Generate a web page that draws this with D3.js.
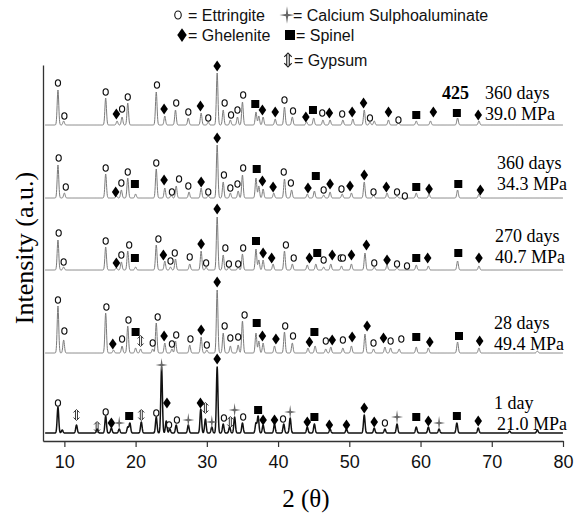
<!DOCTYPE html>
<html>
<head>
<meta charset="utf-8">
<script src="https://cdn.jsdelivr.net/npm/d3@7/dist/d3.min.js"></script>
<style>
body{margin:0;background:#fff;}
</style>
</head>
<body>
<svg id="chart" width="583" height="515"></svg>
<script>
// 2-theta ticks and sample labels
var xTicks = [10, 20, 30, 40, 50, 60, 70, 80];
var ages = ["1 day", "28 days", "270 days", "360 days", "360 days"];
var strengths = ["21.0 MPa", "49.4 MPa", "40.7 MPa", "34.3 MPa", "39.0 MPa"];
var offsets = [8, 88, 171, 243, 316];

// peaks: [2theta, height] , marks: [phase, 2theta, height]
var peaks1 = [[9.1,26],[9.7,3],[11.7,8],[14.6,4],[15.8,17],[16.6,5],[17.7,4],[18.9,6],[19.2,10],[20.8,11],[22.9,16],[23.65,66],[24.3,12],[24.8,4],[25.7,8],[27.4,8],[29.15,24],[29.8,14],[30.7,6],[31.45,66],[32.3,9],[33.2,6],[33.9,16],[35.0,10],[36.9,10],[37.2,17],[37.9,8],[39.5,9],[40.8,9],[41.7,15],[44.1,6],[45.1,9],[47.3,4],[49.6,4],[52.1,18],[53.5,5],[55.0,4],[56.7,9],[59.4,6],[61.1,6],[62.6,4],[65.1,10],[68.1,5],[72.5,2],[76.4,3]];
var marks1 = [["E",9.1,30],["Y",11.7,18],["Y",14.6,6],["E",15.8,21],["G",16.6,10],["C",17.7,10],["S",19.1,17],["Y",20.8,18],["E",22.9,20],["C",23.65,68],["G",24.4,30],["E",24.7,8],["E",25.8,13],["C",27.4,13],["G",29.1,30],["Y",29.8,25],["C",30.7,11],["G",31.45,74],["E",32.4,15],["Y",33.3,11],["C",33.9,23],["E",35.1,16],["S",37.2,23],["G",37.9,13],["G",39.5,13],["E",40.7,14],["C",41.7,21],["G",44.1,11],["S",45.1,16],["G",47.2,8],["G",49.6,8],["G",52.1,25],["G",53.5,11],["E",55.0,10],["C",56.7,16],["S",59.4,16],["G",61.1,12],["C",62.6,10],["S",65.1,17],["G",68.1,12]];

var peaks28 = [[9.1,47],[9.9,13],[15.8,40],[16.9,3],[18.1,7],[18.9,27],[20.0,5],[20.7,4],[22.4,4],[22.9,30],[24.1,10],[25.1,4],[25.6,12],[27.6,8],[29.2,16],[30.0,3],[31.45,63],[32.3,20],[33.3,7],[34.4,8],[35.0,32],[36.9,20],[37.3,12],[37.9,10],[39.5,7],[40.9,21],[42.0,10],[44.2,5],[45.2,7],[46.7,4],[47.4,6],[49.1,5],[50.3,7],[52.2,19],[53.4,4],[55.0,6],[55.8,5],[57.0,4],[59.4,6],[61.1,5],[65.2,11],[68.2,5],[76.4,2]];
var marks28 = [["E",9.1,53],["E",10.0,22],["E",15.9,46],["G",16.8,9],["E",18.1,14],["E",19.0,33],["S",20.0,21],["Y",20.7,12],["E",22.4,10],["E",23.1,36],["G",24.0,17],["E",25.1,9],["E",25.7,18],["E",27.7,14],["G",29.2,23],["E",30.0,8],["G",31.45,71],["E",32.5,27],["E",33.3,15],["E",34.4,16],["E",35.3,38],["S",37.0,30],["G",37.8,17],["G",39.7,14],["E",41.0,27],["E",42.1,17],["G",44.4,11],["S",45.1,21],["E",46.7,12],["G",47.6,13],["E",49.1,13],["G",50.4,16],["G",52.5,27],["E",53.4,10],["G",54.8,15],["E",55.8,12],["E",57.3,14],["S",59.4,16],["G",61.3,11],["S",65.4,17],["G",68.3,12]];

var peaks270 = [[9.1,30],[9.9,3],[15.8,23],[17.3,2],[18.0,8],[18.9,19],[20.0,3],[22.9,25],[24.1,9],[24.9,3],[25.6,11],[27.6,6],[29.2,19],[29.9,3],[31.45,53],[32.3,15],[33.1,3],[34.4,3],[35.0,16],[36.9,21],[37.3,10],[37.9,10],[39.3,6],[40.9,19],[42.0,6],[44.1,5],[45.3,6],[46.4,3],[47.4,6],[48.9,4],[50.3,6],[52.2,17],[53.5,3],[55.3,5],[56.7,2],[59.4,5],[61.1,4],[65.2,9],[68.2,4]];
var marks270 = [["E",9.2,37],["E",9.9,8],["E",15.8,29],["G",17.3,7],["E",18.0,15],["E",19.1,25],["S",19.9,12],["E",23.2,31],["G",23.9,15],["E",24.9,9],["E",25.5,17],["E",27.6,13],["G",29.2,26],["E",29.9,7],["G",31.45,61],["E",32.6,22],["E",33.1,6],["E",34.4,6],["E",35.1,22],["S",36.9,29],["G",37.9,17],["G",39.1,12],["E",41.1,25],["E",42.2,12],["G",44.4,12],["S",45.5,17],["E",46.4,10],["G",47.6,15],["E",48.8,12],["E",49.1,12],["G",50.3,15],["G",52.4,25],["E",53.5,7],["G",55.3,10],["E",56.7,6],["E",58.1,4],["S",59.4,12],["G",61.0,12],["S",65.3,17],["G",68.2,12]];

var peaks360 = [[9.1,33],[10.0,5],[15.8,24],[17.3,2],[18.0,8],[18.9,20],[20.0,4],[22.9,29],[24.1,10],[25.0,3],[25.7,12],[27.5,6],[29.2,10],[30.2,2],[31.45,53],[32.3,16],[33.3,5],[34.4,7],[35.0,23],[36.9,20],[37.3,12],[37.9,9],[39.4,5],[40.9,19],[41.9,8],[44.1,4],[45.1,7],[46.4,3],[47.3,6],[49.0,4],[50.3,5],[52.1,16],[53.4,3],[55.3,5],[56.7,2],[59.4,5],[61.2,4],[65.2,8],[68.2,4]];
var marks360 = [["E",9.2,40],["E",10.2,11],["E",15.8,30],["G",17.2,6],["E",18.0,15],["E",18.9,26],["S",19.9,14],["E",22.9,35],["G",24.0,18],["E",25.1,6],["E",26.1,19],["E",27.4,12],["G",29.2,16],["E",30.2,6],["G",31.45,60],["E",32.4,23],["E",33.3,10],["E",34.3,14],["E",35.1,30],["S",37.0,29],["G",37.8,17],["G",39.3,11],["E",40.8,26],["E",41.8,15],["G",44.2,10],["S",45.3,22],["E",46.4,8],["G",47.3,14],["E",48.9,9],["G",50.1,12],["G",52.1,23],["E",53.4,6],["G",55.2,11],["E",56.7,6],["E",57.8,2],["S",59.4,11],["G",61.2,9],["S",65.3,14],["G",68.4,8]];

var peaks425 = [[9.1,35],[9.9,4],[15.8,27],[17.4,4],[18.1,8],[18.9,22],[22.9,33],[24.1,9],[25.6,15],[27.4,7],[29.2,12],[30.2,3],[31.45,52],[32.3,15],[33.3,5],[34.3,8],[35.0,23],[36.9,13],[37.3,9],[37.9,8],[39.6,6],[40.9,18],[42.0,8],[44.0,3],[45.0,7],[46.3,5],[47.3,5],[49.1,5],[50.5,6],[52.1,15],[52.9,3],[53.5,4],[55.5,5],[56.9,2],[59.4,4],[61.4,4],[65.2,7],[68.2,4]];
var marks425 = [["E",9.1,42],["E",10.0,9],["E",15.8,33],["G",17.3,11],["E",18.1,16],["E",18.9,28],["E",23.0,40],["G",24.0,16],["E",25.7,22],["E",27.4,13],["G",29.1,19],["E",30.2,7],["G",31.45,59],["E",32.5,22],["E",33.4,10],["E",34.3,15],["E",35.1,30],["S",36.8,21],["G",37.8,15],["G",39.6,13],["E",40.9,25],["E",42.1,14],["G",43.9,8],["S",44.9,15],["E",46.2,12],["G",47.2,12],["E",49.0,11],["G",50.4,13],["G",52.0,22],["E",52.9,7],["G",55.5,13],["E",56.9,5],["S",59.4,10],["G",61.8,13],["S",65.1,12],["G",68.1,10]];

var peakSets = [peaks1, peaks28, peaks270, peaks360, peaks425];
var markSets = [marks1, marks28, marks270, marks360, marks425];

var svg = d3.select("#chart");
var x = d3.scaleLinear().domain([7, 80]).range([43, 563]);
var y = d3.scaleLinear().domain([0, 376]).range([441, 65]);

// axes
svg.append("g")
	.attr("transform", "translate(0,441)")
	.call(d3.axisBottom(x).tickValues(xTicks).tickSize(6).tickSizeOuter(0).tickPadding(8))
	.call(function(g){
		g.select(".domain").attr("stroke", "#333").attr("stroke-width", 1.3);
		g.selectAll(".tick line").attr("stroke", "#333").attr("stroke-width", 1.2);
		g.selectAll("text").attr("font-family", "Liberation Sans, Arial, sans-serif").attr("font-size", 18).attr("fill", "#111");
	});
svg.append("g")
	.attr("transform", "translate(43,0)")
	.call(d3.axisLeft(y).tickValues([]).tickSizeOuter(0))
	.call(function(g){ g.select(".domain").attr("stroke", "#333").attr("stroke-width", 1.3); });

svg.append("text")
	.attr("x", 306).attr("y", 507)
	.attr("text-anchor", "middle")
	.attr("font-family", "Liberation Serif, Times New Roman, serif")
	.attr("font-size", 25)
	.text("2 (θ)");
svg.append("text")
	.attr("transform", "translate(33,248) rotate(-90)")
	.attr("text-anchor", "middle")
	.attr("font-family", "Liberation Serif, Times New Roman, serif")
	.attr("font-size", 26)
	.text("Intensity (a.u.)");

// patterns
var line = d3.line().x(function(d){ return x(d[0]); }).y(function(d){ return y(d[1]); });
function profile(peaks, off){
	var pts = [];
	for (var t = 7.3; t <= 80.001; t += 0.03) {
		var v = 0;
		peaks.forEach(function(p){
			var d = (t - p[0]) / 0.11;
			if (Math.abs(d) < 6) v += p[1] * Math.exp(-0.5 * d * d);
		});
		pts.push([t, off + v]);
	}
	return pts;
}

peakSets.forEach(function(peaks, i){
	svg.append("path")
		.attr("d", line(profile(peaks, offsets[i])))
		.attr("fill", "none")
		.attr("stroke", i == 0 ? "#111" : "#7a7a7a")
		.attr("stroke-width", i == 0 ? 1.5 : 1)
		.attr("stroke-linejoin", "round");
});

// phase symbols
function drawMark(g, sym, cx, cy, big){
	var k = big ? 1.25 : 1;
	if (sym == "E") {
		g.append("ellipse").attr("cx", cx).attr("cy", cy).attr("rx", 2.6*k).attr("ry", 3.2*k)
			.attr("fill", "#fff").attr("stroke", "#111").attr("stroke-width", 1.1);
	} else if (sym == "G") {
		g.append("path").attr("transform", "translate(" + cx + "," + cy + ") scale(" + k + ")")
			.attr("d", "M0,-5.5L3.8,0L0,5.5L-3.8,0Z").attr("fill", "#000");
	} else if (sym == "S") {
		g.append("rect").attr("x", cx - 4*k).attr("y", cy - 4*k).attr("width", 8*k).attr("height", 8*k).attr("fill", "#000");
	} else if (sym == "C") {
		g.append("path").attr("transform", "translate(" + cx + "," + cy + ") scale(" + k + ")")
			.attr("d", "M0,-7L0.9,-0.9L6,0L0.9,0.9L0,7L-0.9,0.9L-6,0L-0.9,-0.9Z").attr("fill", "#666");
	} else if (sym == "Y") {
		g.append("path").attr("transform", "translate(" + cx + "," + cy + ") scale(" + k + ")")
			.attr("d", "M-1,-4.5V4.5M1,-4.5V4.5M-3,-2.5L0,-5.5L3,-2.5M-3,2.5L0,5.5L3,2.5")
			.attr("fill", "none").attr("stroke", "#222").attr("stroke-width", 0.9);
	}
}

var mg = svg.append("g");
markSets.forEach(function(marks, i){
	marks.forEach(function(m){
		drawMark(mg, m[0], x(m[1]), y(offsets[i] + m[2]), false);
	});
});

// sample labels
var labelX = [494, 494, 495, 497, 485];
var labelY = [409, 329, 242, 169, 99];
var serif = "Liberation Serif, Times New Roman, serif";
ages.forEach(function(a, i){
	svg.append("text").attr("x", labelX[i]).attr("y", labelY[i]).attr("font-family", serif).attr("font-size", 18).text(a);
	svg.append("text").attr("x", labelX[i] + (i == 0 ? 3 : 0)).attr("y", labelY[i] + 21).attr("font-family", serif).attr("font-size", 18).text(strengths[i]);
});
svg.append("text").attr("x", 442).attr("y", 99).attr("font-family", serif).attr("font-size", 18).attr("font-weight", "bold").text("425");

// legend
var legend = [["E", 178, 15, "= Ettringite", 188], ["C", 287, 15, "= Calcium Sulphoaluminate", 293],
	["G", 182, 35, "= Ghelenite", 188], ["S", 290, 35, "= Spinel", 296], ["Y", 288, 60, "= Gypsum", 294]];
var lg = svg.append("g");
legend.forEach(function(l){
	drawMark(lg, l[0], l[1], l[2], true);
	lg.append("text").attr("x", l[4]).attr("y", l[2] + 6)
		.attr("font-family", "Liberation Sans, Arial, sans-serif").attr("font-size", 16).attr("fill", "#111")
		.text(l[3]);
});
</script>
</body>
</html>
